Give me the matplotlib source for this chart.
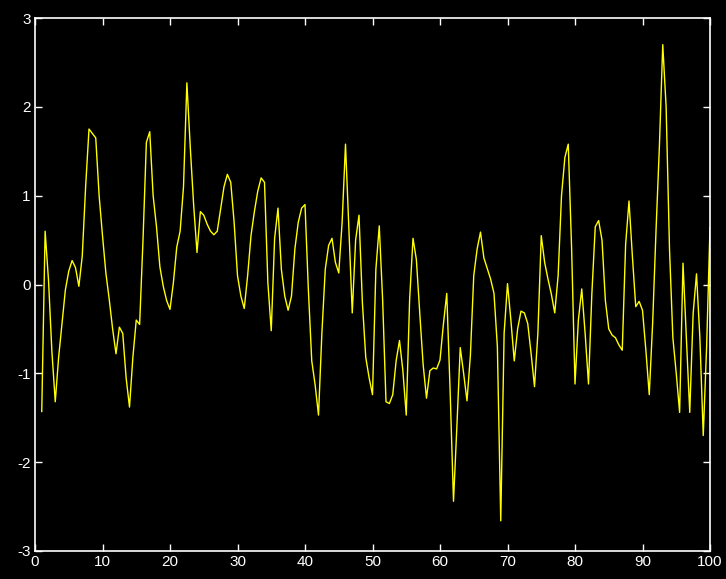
import numpy as np
import matplotlib
matplotlib.use("Agg")
import matplotlib.pyplot as plt

x_start, x_step = 1.0, 0.5
values = [
    -1.43, 0.60, 0.05, -0.75, -1.32, -0.82, -0.44, -0.06, 0.15, 0.27,
    0.19, -0.02, 0.32, 1.10, 1.75, 1.70, 1.65, 1.00, 0.55, 0.13,
    -0.17, -0.50, -0.78, -0.48, -0.55, -1.05, -1.38, -0.82, -0.40, -0.45,
    0.50, 1.60, 1.72, 1.00, 0.65, 0.20, -0.02, -0.18, -0.28, 0.02,
    0.42, 0.60, 1.10, 2.27, 1.55, 0.90, 0.36, 0.82, 0.78, 0.68,
    0.60, 0.56, 0.60, 0.85, 1.10, 1.24, 1.15, 0.70, 0.10, -0.13,
    -0.27, 0.10, 0.55, 0.82, 1.05, 1.20, 1.15, 0.02, -0.52, 0.52,
    0.86, 0.17, -0.13, -0.29, -0.13, 0.40, 0.70, 0.86, 0.90, -0.06,
    -0.86, -1.13, -1.47, -0.55, 0.17, 0.44, 0.52, 0.25, 0.13, 0.70,
    1.58, 0.63, -0.32, 0.50, 0.78, -0.20, -0.82, -1.05, -1.24, 0.17,
    0.66, -0.17, -1.32, -1.34, -1.24, -0.86, -0.63, -0.97, -1.47, -0.17,
    0.52, 0.28, -0.32, -0.90, -1.28, -0.97, -0.94, -0.95, -0.85, -0.45,
    -0.10, -1.20, -2.44, -1.60, -0.71, -1.00, -1.31, -0.80, 0.10, 0.40,
    0.59, 0.30, 0.18, 0.06, -0.10, -0.70, -2.66, -0.55, 0.01, -0.40,
    -0.86, -0.50, -0.30, -0.32, -0.44, -0.78, -1.15, -0.55, 0.55, 0.25,
    0.06, -0.11, -0.32, 0.10, 1.00, 1.43, 1.58, 0.40, -1.12, -0.40,
    -0.05, -0.55, -1.12, -0.10, 0.65, 0.72, 0.50, -0.18, -0.50, -0.57,
    -0.60, -0.68, -0.74, 0.45, 0.94, 0.32, -0.25, -0.19, -0.29, -0.74,
    -1.24, -0.44, 0.60, 1.55, 2.70, 2.00, 0.40, -0.60, -1.00, -1.44,
    0.24, -0.60, -1.44, -0.33, 0.12, -0.60, -1.70, -0.70, 0.64,
]
x_ticks = [0, 10, 20, 30, 40, 50, 60, 70, 80, 90, 100]
y_ticks = [-3, -2, -1, 0, 1, 2, 3]

xs = x_start + x_step * np.arange(len(values))

plt.rcParams['axes.unicode_minus'] = False
plt.rcParams['font.family'] = ['Liberation Sans', 'DejaVu Sans']
fig = plt.figure(figsize=(7.26, 5.79), dpi=100, facecolor='black')
ax = fig.add_axes([35/726, 1 - 551/579, (710 - 35)/726, (551 - 18)/579])
ax.set_facecolor('black')
ax.plot(xs, values, color='#ffff00', lw=1.0)
ax.set_xlim(0, 100)
ax.set_ylim(-3, 3)
ax.set_xticks(x_ticks)
ax.set_yticks(y_ticks)
ax.set_xticklabels([str(t) for t in x_ticks])
ax.set_yticklabels([str(t) for t in y_ticks])
for s in ax.spines.values():
    s.set_color('white')
    s.set_linewidth(1.2)
ax.tick_params(direction='in', length=5, width=1, colors='white',
               top=True, right=True, labelsize=11, pad=3)
fig.savefig('out.png', dpi=100, facecolor='black')
